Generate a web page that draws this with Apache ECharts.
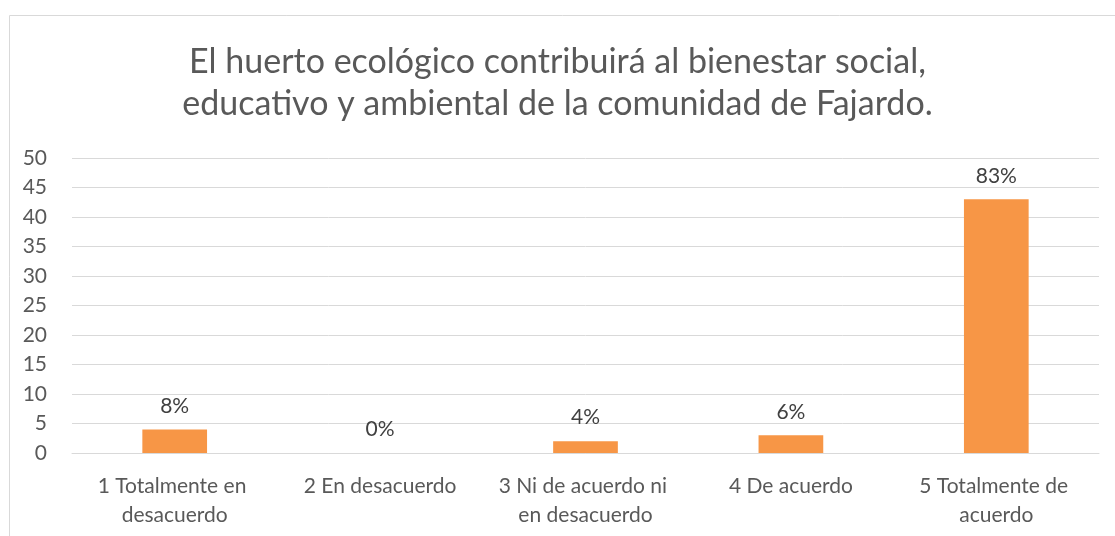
<!DOCTYPE html>
<html>
<head>
<meta charset="utf-8">
<script src="https://cdn.jsdelivr.net/npm/echarts@6/dist/echarts.min.js"></script>
<style>
  html, body { margin: 0; padding: 0; background: #fff; }
</style>
</head>
<body>
<div id="main" style="width:1115px;height:536px;"></div>
<script type="text/javascript">
  // data
  var categories = ['1 Totalmente en desacuerdo', '2 En desacuerdo', '3 Ni de acuerdo ni en desacuerdo', '4 De acuerdo', '5 Totalmente de acuerdo'];
  var counts = [4, 0, 2, 3, 43];
  var percents = ['8%', '0%', '4%', '6%', '83%'];
  var titleText = 'El huerto ecológico contribuirá al bienestar social,\neducativo y ambiental de la comunidad de Fajardo.';

  var myChart = echarts.init(document.getElementById('main'));
  var option = {
    animation: false,
    textStyle: { fontFamily: 'Lato' },
    graphic: [{
      type: 'rect',
      left: 7, top: 13,
      shape: { width: 1130, height: 560 },
      style: { fill: 'none', stroke: '#d9d9d9', lineWidth: 1 }
    }],
    title: {
      text: titleText,
      left: 'center',
      top: 36,
      textStyle: { fontFamily: 'Lato', fontSize: 34, fontWeight: 'normal', color: '#595959', lineHeight: 42 }
    },
    grid: { left: 72, right: 16, top: 158, bottom: 83 },
    xAxis: {
      type: 'category',
      data: categories,
      axisLine: { lineStyle: { color: '#d9d9d9' } },
      axisTick: { show: false },
      axisLabel: {
        color: '#595959', fontSize: 21, fontFamily: 'Lato', margin: 19,
        width: 192, overflow: 'break', lineHeight: 29, interval: 0
      }
    },
    yAxis: {
      type: 'value',
      min: 0, max: 50, interval: 5,
      axisLabel: { color: '#595959', fontSize: 21, fontFamily: 'Lato', margin: 25 },
      splitLine: { lineStyle: { color: '#d9d9d9' } }
    },
    series: [{
      type: 'bar',
      data: counts,
      barWidth: '31.5%',
      itemStyle: { color: '#f79646' },
      label: {
        show: true,
        position: 'top',
        distance: 13,
        color: '#404040',
        fontSize: 21,
        fontFamily: 'Lato',
        formatter: function (p) { return percents[p.dataIndex]; }
      }
    }]
  };
  myChart.setOption(option);
</script>
</body>
</html>
